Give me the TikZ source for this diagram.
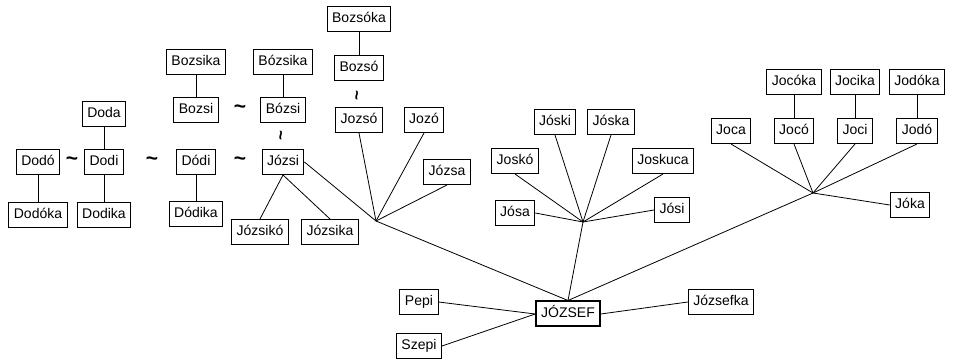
\documentclass[tikz,border=0pt]{standalone}
\usepackage{fontspec}
\setmainfont{Liberation Sans}

\begin{document}
\begin{tikzpicture}[x=1pt,y=-1pt,
    namebox/.style={draw,line width=1pt,fill=white,inner xsep=5pt,minimum height=25pt,
        text height=10pt,text depth=3pt,font=\fontsize{14}{16}\selectfont},
    mainbox/.style={namebox,line width=2pt},
    htilde/.style={inner sep=0pt,font=\fontsize{21}{21}\selectfont\bfseries},
    vtilde/.style={htilde,rotate=90,font=\fontsize{17}{17}\selectfont\bfseries},
    every path/.style={line width=0.8pt}]
\useasboundingbox (0,0) rectangle (954,363);

% Dodi branch
\node[namebox] (doda) at (104,114) {Doda};
\node[namebox] (dodo) at (38,162) {Dodó};
\node[htilde] (t1) at (72,161) {\textasciitilde};
\node[namebox] (dodi) at (104,162) {Dodi};
\node[htilde] (t2) at (152,161) {\textasciitilde};
\node[namebox] (dodoka) at (38,215) {Dodóka};
\node[namebox] (dodika) at (104,215) {Dodika};

% Bozsi / Dódi column
\node[namebox] (bozsika) at (196,62) {Bozsika};
\node[namebox] (bozsi) at (196,110) {Bozsi};
\node[htilde] (t3) at (240,109) {\textasciitilde};
\node[namebox] (dodi2) at (196,162) {Dódi};
\node[htilde] (t4) at (240,161) {\textasciitilde};
\node[namebox] (dodika2) at (196,214) {Dódika};

% Józsi column
\node[namebox] (bozsika2) at (283,62) {Bózsika};
\node[namebox] (bozsi2) at (283,110) {Bózsi};
\node[vtilde] (t5) at (283,136) {\textasciitilde};
\node[namebox] (jozsi) at (283,162) {Józsi};
\node[namebox] (jozsiko) at (260,232) {Józsikó};
\node[namebox] (jozsika) at (330,232) {Józsika};

% Jozsó group
\node[namebox] (bozsoka) at (359,19) {Bozsóka};
\node[namebox] (bozso) at (359,68) {Bozsó};
\node[vtilde] (t6) at (359,96) {\textasciitilde};
\node[namebox] (jozso) at (359,120) {Jozsó};
\node[namebox] (jozo) at (424,120) {Jozó};
\node[namebox] (jozsa) at (447,172) {Józsa};
\coordinate (hubA) at (376,221);

% Jóska group
\node[namebox] (josko) at (515,161) {Joskó};
\node[namebox] (joski) at (555,122) {Jóski};
\node[namebox] (joska) at (611,122) {Jóska};
\node[namebox] (joskuca) at (663,161) {Joskuca};
\node[namebox] (josa) at (515,213) {Jósa};
\node[namebox] (josi) at (672,210) {Jósi};
\coordinate (hubB) at (583,222);

% Joca group
\node[namebox] (jocoka) at (794,82) {Jocóka};
\node[namebox] (jocika) at (855,82) {Jocika};
\node[namebox] (jodoka) at (917,82) {Jodóka};
\node[namebox] (joca) at (731,131) {Joca};
\node[namebox] (joco) at (794,131) {Jocó};
\node[namebox] (joci) at (855,131) {Joci};
\node[namebox] (jodo) at (917,131) {Jodó};
\node[namebox] (joka) at (910,205) {Jóka};
\coordinate (hubC) at (813,193);

% root
\node[mainbox] (jozsef) at (568,314) {JÓZSEF};
\node[namebox] (pepi) at (419,302) {Pepi};
\node[namebox] (szepi) at (419,346) {Szepi};
\node[namebox] (jozsefka) at (721,302) {Józsefka};

% vertical links
\draw (doda) -- (dodi);
\draw (dodi) -- (dodika);
\draw (dodo) -- (dodoka);
\draw (dodi2) -- (dodika2);
\draw (bozsika) -- (bozsi);
\draw (bozsika2) -- (bozsi2);
\draw (bozsoka) -- (bozso);
\draw (jocoka) -- (joco);
\draw (jocika) -- (joci);
\draw (jodoka) -- (jodo);

% Józsi children
\draw (jozsi.south) -- (jozsiko.north);
\draw (jozsi.south) -- (jozsika.north);

% fans
\foreach \n/\a in {jozsi/east,jozso/south,jozo/south,jozsa/south}
    \draw (hubA) -- (\n.\a);
\foreach \n/\a in {josko/south,joski/south,joska/south,joskuca/south,josa/east,josi/west}
    \draw (hubB) -- (\n.\a);
\foreach \n/\a in {joca/south,joco/south,joci/south,jodo/south,joka/west}
    \draw (hubC) -- (\n.\a);

% root links
\foreach \h in {hubA,hubB,hubC}
    \draw (\h) -- (jozsef.north);
\draw (pepi.east) -- (jozsef.west);
\draw (szepi.east) -- (jozsef.west);
\draw (jozsefka.west) -- (jozsef.east);

\end{tikzpicture}
\end{document}
